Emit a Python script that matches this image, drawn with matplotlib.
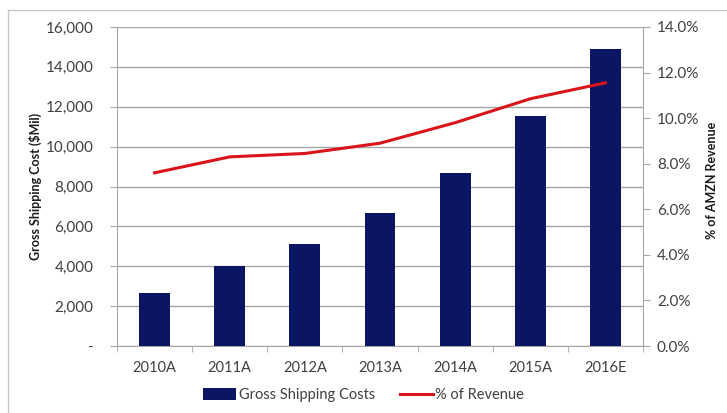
import numpy as np
import matplotlib.pyplot as plt
from matplotlib.patches import Rectangle
from matplotlib.ticker import FuncFormatter, FixedLocator

years = ["2010A", "2011A", "2012A", "2013A", "2014A", "2015A", "2016E"]
shipping_cost = [2660, 4010, 5120, 6670, 8680, 11540, 14900]
pct_revenue = [7.6, 8.3, 8.45, 8.9, 9.8, 10.85, 11.55]

plt.rcParams['font.family'] = ['Lato', 'DejaVu Sans']
text_col = '#404040'
grid_col = '#a6a6a6'

fig = plt.figure(figsize=(7.27, 4.13), dpi=100)
ax = fig.add_axes([117 / 727, 1 - 346 / 413, 526 / 727, 319 / 413])
ax2 = ax.twinx()

x = np.arange(len(years))
bars = ax.bar(x, shipping_cost, width=0.41, color='#0c1464', zorder=3,
              label='Gross Shipping Costs')
line, = ax2.plot(x, pct_revenue, color='#d9141b', lw=2.2, zorder=4,
                 label='% of Revenue')

ax.set_xlim(-0.5, len(years) - 0.5)
ax.set_ylim(0, 16000)
ax.set_yticks(np.arange(0, 16001, 2000))
ax.yaxis.set_major_formatter(FuncFormatter(lambda v, p: '-' if v == 0 else f'{v:,.0f}'))
ax2.set_ylim(0, 14)
ax2.set_yticks(np.arange(0, 14.1, 2))
ax2.yaxis.set_major_formatter(FuncFormatter(lambda v, p: f'{v:.1f}%'))

ax.set_xticks(x)
ax.set_xticklabels(years)
ax.xaxis.set_minor_locator(FixedLocator(np.arange(-0.5, len(years), 1)))
ax.tick_params(axis='x', which='major', length=0, pad=11)
ax.tick_params(axis='x', which='minor', length=4, color=grid_col)
ax.tick_params(axis='y', length=5, color=grid_col, pad=12)
ax2.tick_params(axis='y', length=5, color=grid_col, pad=5)
for a in (ax, ax2):
    a.tick_params(labelsize=11, labelcolor=text_col)
    for s in a.spines.values():
        s.set_visible(False)
ax.tick_params(axis='x', labelsize=10.5)
ax.spines['left'].set_visible(True)
ax.spines['left'].set_color(grid_col)
ax.spines['bottom'].set_visible(True)
ax.spines['bottom'].set_color(grid_col)
ax2.spines['right'].set_visible(True)
ax2.spines['right'].set_color(grid_col)

ax.grid(axis='y', color=grid_col, lw=1, zorder=0)
ax.set_axisbelow(True)

ax.set_ylabel('Gross Shipping Cost ($Mil)', fontsize=9, fontweight='bold',
              color='#1a1a1a')
ax.yaxis.set_label_coords(-0.143, 0.5)
ax2.set_ylabel('% of AMZN Revenue', fontsize=9, fontweight='bold',
               color='#1a1a1a', rotation=90)
ax2.yaxis.set_label_coords(1.12, 0.52)

fig.legend([bars, line], ['Gross Shipping Costs', '% of Revenue'],
           loc='center', bbox_to_anchor=(0.5, 1 - 395 / 413), ncol=2,
           frameon=False, fontsize=10.5, labelcolor=text_col,
           handlelength=2.3, handleheight=0.8, handletextpad=0.15,
           columnspacing=1.7)

# light frame around the chart
fig.add_artist(Rectangle((8 / 727, -0.1), 1.2, 1 - 10 / 413 + 0.1,
                         transform=fig.transFigure, fill=False,
                         edgecolor='#c8c8c8', lw=1))

fig.savefig('out.png', dpi=100)
